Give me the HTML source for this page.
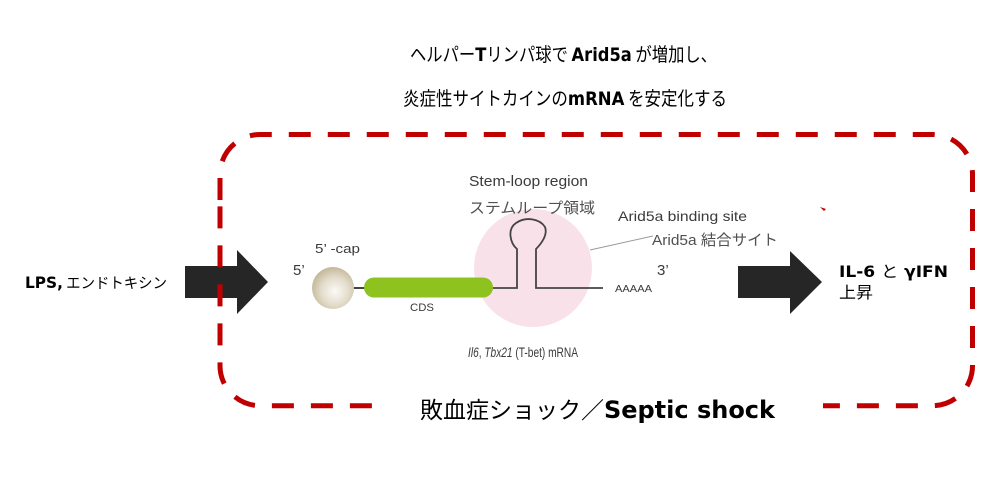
<!DOCTYPE html>
<html><head><meta charset="utf-8">
<style>
html,body{margin:0;padding:0;background:#fff;}
svg{display:block;}
</style></head>
<body>
<svg width="1006" height="481" viewBox="0 0 1006 481" xmlns="http://www.w3.org/2000/svg">
<defs>
<radialGradient id="sph" cx="0.55" cy="0.58" r="0.6">
<stop offset="0" stop-color="#fbfaf6"/>
<stop offset="0.55" stop-color="#e3dccb"/>
<stop offset="1" stop-color="#c2b596"/>
</radialGradient>
</defs>
<rect width="1006" height="481" fill="#fff"/>

<!-- Title -->
<text x="410" y="61" textLength="307" lengthAdjust="spacingAndGlyphs" font-family="'Noto Sans CJK JP', sans-serif" font-size="19" fill="#000">ヘルパー<tspan font-family="'DejaVu Sans', sans-serif" font-weight="bold">T</tspan>リンパ球で <tspan font-family="'DejaVu Sans', sans-serif" font-weight="bold">Arid5a</tspan> が増加し、</text>
<text x="403" y="105" textLength="324" lengthAdjust="spacingAndGlyphs" font-family="'Noto Sans CJK JP', sans-serif" font-size="19" fill="#000">炎症性サイトカインの<tspan font-family="'DejaVu Sans', sans-serif" font-weight="bold">mRNA</tspan> を安定化する</text>

<!-- Left arrow -->
<path d="M185 266 L237 266 L237 250 L268 282 L237 314 L237 298 L185 298 Z" fill="#262626"/>
<!-- Right arrow -->
<path d="M738 266 L790 266 L790 251 L822 282 L790 314 L790 298 L738 298 Z" fill="#262626"/>

<!-- Pink circle -->
<circle cx="533" cy="268" r="59" fill="#f9e1e9"/>

<!-- Dashed border -->
<path d="M220 200 L220 175 A40 40 0 0 1 260 134.5 L932.5 134.5 A40 40 0 0 1 972.5 174.5 L972.5 365.7 A40 40 0 0 1 932.5 405.7 L260 405.7 A40 40 0 0 1 220 365.7 Z" fill="none" stroke="#c00000" stroke-width="5" stroke-dasharray="22 17"/>
<!-- white behind bottom label -->
<rect x="376" y="396" width="447" height="20" fill="#fff"/>
<!-- tiny artifact -->
<path d="M820 207 L826 209 L824 211 Z" fill="#c00000"/>

<!-- mRNA line -->
<line x1="352" y1="288" x2="366" y2="288" stroke="#444" stroke-width="2"/>
<path d="M490 288 L517 288 L517 249 C510 243 507 229 516 223 C526 216 540 219 545 227 C548 235 541 244 536 249 L536 288 L603 288" fill="none" stroke="#444" stroke-width="1.8"/>
<!-- sphere -->
<circle cx="333" cy="288" r="21" fill="url(#sph)"/>
<!-- CDS bar -->
<rect x="364" y="277.5" width="129" height="20" rx="10" fill="#8dc21f"/>
<!-- leader line -->
<line x1="590" y1="250" x2="653" y2="236" stroke="#9a9a9a" stroke-width="1"/>

<!-- Figure labels -->
<g font-family="'Liberation Sans', Arial, sans-serif" fill="#3a3a3a">
<text x="469" y="186" font-size="15" textLength="119" lengthAdjust="spacingAndGlyphs">Stem-loop region</text>
<text x="469" y="213" font-size="15" textLength="126" lengthAdjust="spacingAndGlyphs" font-family="'Noto Sans CJK JP', sans-serif" fill="#505050">ステムループ領域</text>
<text x="618" y="221" font-size="14" textLength="129" lengthAdjust="spacingAndGlyphs">Arid5a binding site</text>
<text x="652" y="245" font-size="15" textLength="126" lengthAdjust="spacingAndGlyphs" fill="#505050">Arid5a <tspan font-family="'Noto Sans CJK JP', sans-serif">結合サイト</tspan></text>
<text x="315" y="253" font-size="13" textLength="45" lengthAdjust="spacingAndGlyphs">5’ -cap</text>
<text x="293" y="275" font-size="15">5’</text>
<text x="657" y="275" font-size="15">3’</text>
<text x="615" y="292" font-size="10.5" textLength="37" lengthAdjust="spacingAndGlyphs">AAAAA</text>
<text x="410" y="311" font-size="11" textLength="24" lengthAdjust="spacingAndGlyphs">CDS</text>
<text x="468" y="357" font-size="13.5" textLength="110" lengthAdjust="spacingAndGlyphs"><tspan font-style="italic">Il6</tspan>, <tspan font-style="italic">Tbx21</tspan> (T-bet) mRNA</text>
</g>

<!-- Side labels -->
<text x="25" y="288" textLength="142" lengthAdjust="spacingAndGlyphs" fill="#000"><tspan font-family="'DejaVu Sans', sans-serif" font-weight="bold" font-size="16">LPS,</tspan><tspan font-family="'Noto Sans CJK JP', sans-serif" font-size="15"> エンドトキシン</tspan></text>
<text x="839" y="277" textLength="109" lengthAdjust="spacingAndGlyphs" fill="#000"><tspan font-family="'DejaVu Sans', sans-serif" font-weight="bold" font-size="16">IL-6 </tspan><tspan font-family="'Noto Sans CJK JP', sans-serif" font-size="16">と</tspan><tspan font-family="'DejaVu Sans', sans-serif" font-weight="bold" font-size="16"> γIFN</tspan></text>
<text x="839" y="298" font-family="'Noto Sans CJK JP', sans-serif" font-size="16" textLength="34" lengthAdjust="spacingAndGlyphs" fill="#000">上昇</text>

<!-- Bottom label -->
<text x="420" y="418" textLength="355" lengthAdjust="spacingAndGlyphs" fill="#000"><tspan font-family="'Noto Sans CJK JP', sans-serif" font-size="23">敗血症ショック／</tspan><tspan font-family="'DejaVu Sans', sans-serif" font-weight="bold" font-size="24">Septic shock</tspan></text>
</svg>
</body></html>
